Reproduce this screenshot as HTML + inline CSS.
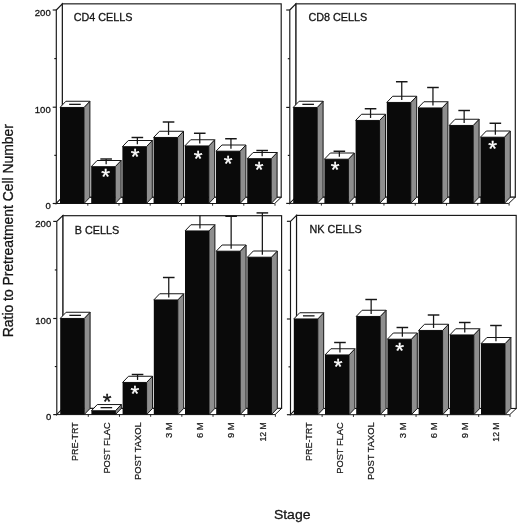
<!DOCTYPE html>
<html><head><meta charset="utf-8"><title>Figure</title>
<style>
html,body{margin:0;padding:0;background:#fff}
svg{display:block}
text{font-family:"Liberation Sans",sans-serif;fill:#151515}
.yl{font-size:9.5px}
.pt{font-size:10.7px}
.xl{font-size:9.8px}
.ax{font-size:13.7px}
.ay{font-size:13.9px}
.st{font-size:22.5px;stroke:#151515;stroke-width:.35px}
.sw{fill:#fff;stroke:#fff;stroke-width:.3px}
.pt,.yl,.xl,.ax{stroke:#151515;stroke-width:.3px}
.xl{stroke-width:.22px}
</style></head><body>
<svg width="520" height="525" viewBox="0 0 520 525">
<rect width="520" height="525" fill="#fff"/>
<rect x="62.3" y="3.85" width="218.9" height="193.45" fill="#fff" stroke="#161616" stroke-width="1.15"/>
<polygon points="56.3,10 62.3,3.85 62.3,197.3 56.3,203.5" fill="#fff" stroke="#161616" stroke-width="1.15"/>
<polygon points="56.3,203.5 274.7,203.5 281.2,197.3 62.3,197.3" fill="#fff" stroke="#161616" stroke-width="1"/>
<line x1="52.7" y1="203.5" x2="56.3" y2="203.5" stroke="#161616" stroke-width="1.15"/>
<line x1="54.3" y1="155.35" x2="56.3" y2="155.35" stroke="#161616" stroke-width="1.15"/>
<line x1="52.7" y1="107.2" x2="56.3" y2="107.2" stroke="#161616" stroke-width="1.15"/>
<line x1="54.3" y1="58.6" x2="56.3" y2="58.6" stroke="#161616" stroke-width="1.15"/>
<line x1="52.7" y1="10" x2="56.3" y2="10" stroke="#161616" stroke-width="1.15"/>
<line x1="87.8" y1="203.5" x2="87.8" y2="205.7" stroke="#161616" stroke-width="0.9"/>
<line x1="119" y1="203.5" x2="119" y2="205.7" stroke="#161616" stroke-width="0.9"/>
<line x1="150.2" y1="203.5" x2="150.2" y2="205.7" stroke="#161616" stroke-width="0.9"/>
<line x1="181.4" y1="203.5" x2="181.4" y2="205.7" stroke="#161616" stroke-width="0.9"/>
<line x1="212.6" y1="203.5" x2="212.6" y2="205.7" stroke="#161616" stroke-width="0.9"/>
<line x1="243.8" y1="203.5" x2="243.8" y2="205.7" stroke="#161616" stroke-width="0.9"/>
<line x1="275" y1="203.5" x2="275" y2="205.7" stroke="#161616" stroke-width="0.9"/>
<text x="50.7" y="209" text-anchor="end" class="yl">0</text>
<text x="50.7" y="112.7" text-anchor="end" class="yl">100</text>
<text x="50.7" y="15.5" text-anchor="end" class="yl">200</text>
<text x="73.7" y="21.2" class="pt" textLength="58.8" lengthAdjust="spacingAndGlyphs">CD4 CELLS</text>
<polygon points="84,107.45 89.9,101.25 89.9,197.3 84,203.5" fill="#8e8e8e" stroke="#161616" stroke-width="1"/>
<polygon points="60,107.45 65.9,101.25 89.9,101.25 84,107.45" fill="#fff" stroke="#161616" stroke-width="1"/>
<rect x="60" y="107.45" width="24" height="96.05" fill="#0a0a0a"/>
<line x1="69.15" y1="104.35" x2="80.75" y2="104.35" stroke="#161616" stroke-width="1.3"/>
<polygon points="115.2,166.7 121.1,160.5 121.1,197.3 115.2,203.5" fill="#8e8e8e" stroke="#161616" stroke-width="1"/>
<polygon points="91.2,166.7 97.1,160.5 121.1,160.5 115.2,166.7" fill="#fff" stroke="#161616" stroke-width="1"/>
<rect x="91.2" y="166.7" width="24" height="36.8" fill="#0a0a0a"/>
<line x1="106.15" y1="164.2" x2="106.15" y2="159" stroke="#161616" stroke-width="1.25"/>
<line x1="100.35" y1="159" x2="111.95" y2="159" stroke="#161616" stroke-width="1.45"/>
<text x="105.6" y="183.5" text-anchor="middle" class="st sw">*</text>
<polygon points="146.4,146.7 152.3,140.5 152.3,197.3 146.4,203.5" fill="#8e8e8e" stroke="#161616" stroke-width="1"/>
<polygon points="122.4,146.7 128.3,140.5 152.3,140.5 146.4,146.7" fill="#fff" stroke="#161616" stroke-width="1"/>
<rect x="122.4" y="146.7" width="24" height="56.8" fill="#0a0a0a"/>
<line x1="137.35" y1="144.2" x2="137.35" y2="137.5" stroke="#161616" stroke-width="1.25"/>
<line x1="131.55" y1="137.5" x2="143.15" y2="137.5" stroke="#161616" stroke-width="1.45"/>
<text x="135.1" y="163.5" text-anchor="middle" class="st sw">*</text>
<polygon points="177.6,137.45 183.5,131.25 183.5,197.3 177.6,203.5" fill="#8e8e8e" stroke="#161616" stroke-width="1"/>
<polygon points="153.6,137.45 159.5,131.25 183.5,131.25 177.6,137.45" fill="#fff" stroke="#161616" stroke-width="1"/>
<rect x="153.6" y="137.45" width="24" height="66.05" fill="#0a0a0a"/>
<line x1="168.55" y1="134.95" x2="168.55" y2="122" stroke="#161616" stroke-width="1.25"/>
<line x1="162.75" y1="122" x2="174.35" y2="122" stroke="#161616" stroke-width="1.45"/>
<polygon points="208.8,145.95 214.7,139.75 214.7,197.3 208.8,203.5" fill="#8e8e8e" stroke="#161616" stroke-width="1"/>
<polygon points="184.8,145.95 190.7,139.75 214.7,139.75 208.8,145.95" fill="#fff" stroke="#161616" stroke-width="1"/>
<rect x="184.8" y="145.95" width="24" height="57.55" fill="#0a0a0a"/>
<line x1="199.75" y1="143.45" x2="199.75" y2="133.25" stroke="#161616" stroke-width="1.25"/>
<line x1="193.95" y1="133.25" x2="205.55" y2="133.25" stroke="#161616" stroke-width="1.45"/>
<text x="198.1" y="165.5" text-anchor="middle" class="st sw">*</text>
<polygon points="240,151.2 245.9,145 245.9,197.3 240,203.5" fill="#8e8e8e" stroke="#161616" stroke-width="1"/>
<polygon points="216,151.2 221.9,145 245.9,145 240,151.2" fill="#fff" stroke="#161616" stroke-width="1"/>
<rect x="216" y="151.2" width="24" height="52.3" fill="#0a0a0a"/>
<line x1="230.95" y1="148.7" x2="230.95" y2="138.75" stroke="#161616" stroke-width="1.25"/>
<line x1="225.15" y1="138.75" x2="236.75" y2="138.75" stroke="#161616" stroke-width="1.45"/>
<text x="228.1" y="170.5" text-anchor="middle" class="st sw">*</text>
<polygon points="271.2,158.7 277.1,152.5 277.1,197.3 271.2,203.5" fill="#8e8e8e" stroke="#161616" stroke-width="1"/>
<polygon points="247.2,158.7 253.1,152.5 277.1,152.5 271.2,158.7" fill="#fff" stroke="#161616" stroke-width="1"/>
<rect x="247.2" y="158.7" width="24" height="44.8" fill="#0a0a0a"/>
<line x1="262.15" y1="156.2" x2="262.15" y2="150.5" stroke="#161616" stroke-width="1.25"/>
<line x1="256.35" y1="150.5" x2="267.95" y2="150.5" stroke="#161616" stroke-width="1.45"/>
<text x="259.1" y="177.25" text-anchor="middle" class="st sw">*</text>
<rect x="295.8" y="3.85" width="219.5" height="193.35" fill="#fff" stroke="#161616" stroke-width="1.15"/>
<polygon points="289.8,10 295.8,3.85 295.8,197.2 289.8,203.4" fill="#fff" stroke="#161616" stroke-width="1.15"/>
<polygon points="289.8,203.4 508.8,203.4 515.3,197.2 295.8,197.2" fill="#fff" stroke="#161616" stroke-width="1"/>
<line x1="286.2" y1="203.4" x2="289.8" y2="203.4" stroke="#161616" stroke-width="1.15"/>
<line x1="287.8" y1="155.4" x2="289.8" y2="155.4" stroke="#161616" stroke-width="1.15"/>
<line x1="286.2" y1="107.4" x2="289.8" y2="107.4" stroke="#161616" stroke-width="1.15"/>
<line x1="287.8" y1="58.7" x2="289.8" y2="58.7" stroke="#161616" stroke-width="1.15"/>
<line x1="286.2" y1="10" x2="289.8" y2="10" stroke="#161616" stroke-width="1.15"/>
<line x1="321.39" y1="203.4" x2="321.39" y2="205.6" stroke="#161616" stroke-width="0.9"/>
<line x1="352.67" y1="203.4" x2="352.67" y2="205.6" stroke="#161616" stroke-width="0.9"/>
<line x1="383.96" y1="203.4" x2="383.96" y2="205.6" stroke="#161616" stroke-width="0.9"/>
<line x1="415.24" y1="203.4" x2="415.24" y2="205.6" stroke="#161616" stroke-width="0.9"/>
<line x1="446.53" y1="203.4" x2="446.53" y2="205.6" stroke="#161616" stroke-width="0.9"/>
<line x1="477.81" y1="203.4" x2="477.81" y2="205.6" stroke="#161616" stroke-width="0.9"/>
<line x1="509.1" y1="203.4" x2="509.1" y2="205.6" stroke="#161616" stroke-width="0.9"/>
<text x="308.4" y="21.2" class="pt" textLength="58.9" lengthAdjust="spacingAndGlyphs">CD8 CELLS</text>
<polygon points="317.2,107.45 323.1,101.25 323.1,197.2 317.2,203.4" fill="#8e8e8e" stroke="#161616" stroke-width="1"/>
<polygon points="293.2,107.45 299.1,101.25 323.1,101.25 317.2,107.45" fill="#fff" stroke="#161616" stroke-width="1"/>
<rect x="293.2" y="107.45" width="24" height="95.95" fill="#0a0a0a"/>
<line x1="302.35" y1="104.35" x2="313.95" y2="104.35" stroke="#161616" stroke-width="1.3"/>
<polygon points="348.4,159.2 354.3,153 354.3,197.2 348.4,203.4" fill="#8e8e8e" stroke="#161616" stroke-width="1"/>
<polygon points="324.4,159.2 330.3,153 354.3,153 348.4,159.2" fill="#fff" stroke="#161616" stroke-width="1"/>
<rect x="324.4" y="159.2" width="24" height="44.2" fill="#0a0a0a"/>
<line x1="339.35" y1="156.7" x2="339.35" y2="151.25" stroke="#161616" stroke-width="1.25"/>
<line x1="333.55" y1="151.25" x2="345.15" y2="151.25" stroke="#161616" stroke-width="1.45"/>
<text x="335.1" y="176.75" text-anchor="middle" class="st sw">*</text>
<polygon points="379.6,120.45 385.5,114.25 385.5,197.2 379.6,203.4" fill="#8e8e8e" stroke="#161616" stroke-width="1"/>
<polygon points="355.6,120.45 361.5,114.25 385.5,114.25 379.6,120.45" fill="#fff" stroke="#161616" stroke-width="1"/>
<rect x="355.6" y="120.45" width="24" height="82.95" fill="#0a0a0a"/>
<line x1="370.55" y1="117.95" x2="370.55" y2="108.75" stroke="#161616" stroke-width="1.25"/>
<line x1="364.75" y1="108.75" x2="376.35" y2="108.75" stroke="#161616" stroke-width="1.45"/>
<polygon points="410.8,102.45 416.7,96.25 416.7,197.2 410.8,203.4" fill="#8e8e8e" stroke="#161616" stroke-width="1"/>
<polygon points="386.8,102.45 392.7,96.25 416.7,96.25 410.8,102.45" fill="#fff" stroke="#161616" stroke-width="1"/>
<rect x="386.8" y="102.45" width="24" height="100.95" fill="#0a0a0a"/>
<line x1="401.75" y1="99.95" x2="401.75" y2="81.75" stroke="#161616" stroke-width="1.25"/>
<line x1="395.95" y1="81.75" x2="407.55" y2="81.75" stroke="#161616" stroke-width="1.45"/>
<polygon points="442,107.95 447.9,101.75 447.9,197.2 442,203.4" fill="#8e8e8e" stroke="#161616" stroke-width="1"/>
<polygon points="418,107.95 423.9,101.75 447.9,101.75 442,107.95" fill="#fff" stroke="#161616" stroke-width="1"/>
<rect x="418" y="107.95" width="24" height="95.45" fill="#0a0a0a"/>
<line x1="432.95" y1="105.45" x2="432.95" y2="87.5" stroke="#161616" stroke-width="1.25"/>
<line x1="427.15" y1="87.5" x2="438.75" y2="87.5" stroke="#161616" stroke-width="1.45"/>
<polygon points="473.2,125.45 479.1,119.25 479.1,197.2 473.2,203.4" fill="#8e8e8e" stroke="#161616" stroke-width="1"/>
<polygon points="449.2,125.45 455.1,119.25 479.1,119.25 473.2,125.45" fill="#fff" stroke="#161616" stroke-width="1"/>
<rect x="449.2" y="125.45" width="24" height="77.95" fill="#0a0a0a"/>
<line x1="464.15" y1="122.95" x2="464.15" y2="110.5" stroke="#161616" stroke-width="1.25"/>
<line x1="458.35" y1="110.5" x2="469.95" y2="110.5" stroke="#161616" stroke-width="1.45"/>
<polygon points="504.4,137.2 510.3,131 510.3,197.2 504.4,203.4" fill="#8e8e8e" stroke="#161616" stroke-width="1"/>
<polygon points="480.4,137.2 486.3,131 510.3,131 504.4,137.2" fill="#fff" stroke="#161616" stroke-width="1"/>
<rect x="480.4" y="137.2" width="24" height="66.2" fill="#0a0a0a"/>
<line x1="495.35" y1="134.7" x2="495.35" y2="123.25" stroke="#161616" stroke-width="1.25"/>
<line x1="489.55" y1="123.25" x2="501.15" y2="123.25" stroke="#161616" stroke-width="1.45"/>
<text x="492.6" y="156" text-anchor="middle" class="st sw">*</text>
<rect x="62.8" y="215.7" width="218.8" height="192.7" fill="#fff" stroke="#161616" stroke-width="1.15"/>
<polygon points="56.8,221.4 62.8,215.7 62.8,408.4 56.8,414.6" fill="#fff" stroke="#161616" stroke-width="1.15"/>
<polygon points="56.8,414.6 275.1,414.6 281.6,408.4 62.8,408.4" fill="#fff" stroke="#161616" stroke-width="1"/>
<line x1="53.2" y1="414.6" x2="56.8" y2="414.6" stroke="#161616" stroke-width="1.15"/>
<line x1="54.8" y1="366.55" x2="56.8" y2="366.55" stroke="#161616" stroke-width="1.15"/>
<line x1="53.2" y1="318.5" x2="56.8" y2="318.5" stroke="#161616" stroke-width="1.15"/>
<line x1="54.8" y1="269.95" x2="56.8" y2="269.95" stroke="#161616" stroke-width="1.15"/>
<line x1="53.2" y1="221.4" x2="56.8" y2="221.4" stroke="#161616" stroke-width="1.15"/>
<line x1="88.29" y1="414.6" x2="88.29" y2="416.8" stroke="#161616" stroke-width="0.9"/>
<line x1="119.47" y1="414.6" x2="119.47" y2="416.8" stroke="#161616" stroke-width="0.9"/>
<line x1="150.66" y1="414.6" x2="150.66" y2="416.8" stroke="#161616" stroke-width="0.9"/>
<line x1="181.84" y1="414.6" x2="181.84" y2="416.8" stroke="#161616" stroke-width="0.9"/>
<line x1="213.03" y1="414.6" x2="213.03" y2="416.8" stroke="#161616" stroke-width="0.9"/>
<line x1="244.21" y1="414.6" x2="244.21" y2="416.8" stroke="#161616" stroke-width="0.9"/>
<line x1="275.4" y1="414.6" x2="275.4" y2="416.8" stroke="#161616" stroke-width="0.9"/>
<text x="51.2" y="420.1" text-anchor="end" class="yl">0</text>
<text x="51.2" y="324" text-anchor="end" class="yl">100</text>
<text x="51.2" y="226.9" text-anchor="end" class="yl">200</text>
<text x="74.8" y="233.8" class="pt" textLength="44.5" lengthAdjust="spacingAndGlyphs">B CELLS</text>
<polygon points="84.2,318.45 90.1,312.25 90.1,408.4 84.2,414.6" fill="#8e8e8e" stroke="#161616" stroke-width="1"/>
<polygon points="60.2,318.45 66.1,312.25 90.1,312.25 84.2,318.45" fill="#fff" stroke="#161616" stroke-width="1"/>
<rect x="60.2" y="318.45" width="24" height="96.15" fill="#0a0a0a"/>
<line x1="69.35" y1="315.35" x2="80.95" y2="315.35" stroke="#161616" stroke-width="1.3"/>
<polygon points="115.4,410.75 121.3,404.55 121.3,408.4 115.4,414.6" fill="#8e8e8e" stroke="#161616" stroke-width="1"/>
<polygon points="91.4,410.75 97.3,404.55 121.3,404.55 115.4,410.75" fill="#fff" stroke="#161616" stroke-width="1"/>
<rect x="91.4" y="410.75" width="24" height="3.85" fill="#0a0a0a"/>
<line x1="100.55" y1="407.65" x2="112.15" y2="407.65" stroke="#161616" stroke-width="1.3"/>
<polygon points="146.6,382.45 152.5,376.25 152.5,408.4 146.6,414.6" fill="#8e8e8e" stroke="#161616" stroke-width="1"/>
<polygon points="122.6,382.45 128.5,376.25 152.5,376.25 146.6,382.45" fill="#fff" stroke="#161616" stroke-width="1"/>
<rect x="122.6" y="382.45" width="24" height="32.15" fill="#0a0a0a"/>
<line x1="137.55" y1="379.95" x2="137.55" y2="374.5" stroke="#161616" stroke-width="1.25"/>
<line x1="131.75" y1="374.5" x2="143.35" y2="374.5" stroke="#161616" stroke-width="1.45"/>
<text x="134.9" y="401" text-anchor="middle" class="st sw">*</text>
<polygon points="177.8,299.95 183.7,293.75 183.7,408.4 177.8,414.6" fill="#8e8e8e" stroke="#161616" stroke-width="1"/>
<polygon points="153.8,299.95 159.7,293.75 183.7,293.75 177.8,299.95" fill="#fff" stroke="#161616" stroke-width="1"/>
<rect x="153.8" y="299.95" width="24" height="114.65" fill="#0a0a0a"/>
<line x1="168.75" y1="297.45" x2="168.75" y2="277.5" stroke="#161616" stroke-width="1.25"/>
<line x1="162.95" y1="277.5" x2="174.55" y2="277.5" stroke="#161616" stroke-width="1.45"/>
<polygon points="209,230.95 214.9,224.75 214.9,408.4 209,414.6" fill="#8e8e8e" stroke="#161616" stroke-width="1"/>
<polygon points="185,230.95 190.9,224.75 214.9,224.75 209,230.95" fill="#fff" stroke="#161616" stroke-width="1"/>
<rect x="185" y="230.95" width="24" height="183.65" fill="#0a0a0a"/>
<line x1="199.95" y1="228.45" x2="199.95" y2="215.6" stroke="#161616" stroke-width="1.25"/>
<polygon points="240.2,251.2 246.1,245 246.1,408.4 240.2,414.6" fill="#8e8e8e" stroke="#161616" stroke-width="1"/>
<polygon points="216.2,251.2 222.1,245 246.1,245 240.2,251.2" fill="#fff" stroke="#161616" stroke-width="1"/>
<rect x="216.2" y="251.2" width="24" height="163.4" fill="#0a0a0a"/>
<line x1="231.15" y1="248.7" x2="231.15" y2="216.25" stroke="#161616" stroke-width="1.25"/>
<line x1="225.35" y1="216.25" x2="236.95" y2="216.25" stroke="#161616" stroke-width="1.45"/>
<polygon points="271.4,257.2 277.3,251 277.3,408.4 271.4,414.6" fill="#8e8e8e" stroke="#161616" stroke-width="1"/>
<polygon points="247.4,257.2 253.3,251 277.3,251 271.4,257.2" fill="#fff" stroke="#161616" stroke-width="1"/>
<rect x="247.4" y="257.2" width="24" height="157.4" fill="#0a0a0a"/>
<line x1="262.35" y1="254.7" x2="262.35" y2="212.9" stroke="#161616" stroke-width="1.25"/>
<line x1="256.55" y1="212.9" x2="268.15" y2="212.9" stroke="#161616" stroke-width="1.45"/>
<text x="107.2" y="408.7" text-anchor="middle" class="st">*</text>
<text transform="translate(78.3,422.3) rotate(-90)" text-anchor="end" class="xl" textLength="38.6" lengthAdjust="spacingAndGlyphs">PRE-TRT</text>
<text transform="translate(109.5,422.3) rotate(-90)" text-anchor="end" class="xl" textLength="51.3" lengthAdjust="spacingAndGlyphs">POST FLAC</text>
<text transform="translate(140.7,422.3) rotate(-90)" text-anchor="end" class="xl" textLength="57.6" lengthAdjust="spacingAndGlyphs">POST TAXOL</text>
<text transform="translate(171.9,422.3) rotate(-90)" text-anchor="end" class="xl" textLength="15.8" lengthAdjust="spacingAndGlyphs">3 M</text>
<text transform="translate(203.1,422.3) rotate(-90)" text-anchor="end" class="xl" textLength="15.8" lengthAdjust="spacingAndGlyphs">6 M</text>
<text transform="translate(234.3,422.3) rotate(-90)" text-anchor="end" class="xl" textLength="15.8" lengthAdjust="spacingAndGlyphs">9 M</text>
<text transform="translate(265.5,422.3) rotate(-90)" text-anchor="end" class="xl" textLength="19.3" lengthAdjust="spacingAndGlyphs">12 M</text>
<rect x="296.5" y="215.4" width="219.7" height="193.1" fill="#fff" stroke="#161616" stroke-width="1.15"/>
<polygon points="290.5,221.3 296.5,215.4 296.5,408.5 290.5,414.7" fill="#fff" stroke="#161616" stroke-width="1.15"/>
<polygon points="290.5,414.7 509.7,414.7 516.2,408.5 296.5,408.5" fill="#fff" stroke="#161616" stroke-width="1"/>
<line x1="286.9" y1="414.7" x2="290.5" y2="414.7" stroke="#161616" stroke-width="1.15"/>
<line x1="288.5" y1="366.85" x2="290.5" y2="366.85" stroke="#161616" stroke-width="1.15"/>
<line x1="286.9" y1="319" x2="290.5" y2="319" stroke="#161616" stroke-width="1.15"/>
<line x1="288.5" y1="270.15" x2="290.5" y2="270.15" stroke="#161616" stroke-width="1.15"/>
<line x1="286.9" y1="221.3" x2="290.5" y2="221.3" stroke="#161616" stroke-width="1.15"/>
<line x1="322.11" y1="414.7" x2="322.11" y2="416.9" stroke="#161616" stroke-width="0.9"/>
<line x1="353.43" y1="414.7" x2="353.43" y2="416.9" stroke="#161616" stroke-width="0.9"/>
<line x1="384.74" y1="414.7" x2="384.74" y2="416.9" stroke="#161616" stroke-width="0.9"/>
<line x1="416.06" y1="414.7" x2="416.06" y2="416.9" stroke="#161616" stroke-width="0.9"/>
<line x1="447.37" y1="414.7" x2="447.37" y2="416.9" stroke="#161616" stroke-width="0.9"/>
<line x1="478.69" y1="414.7" x2="478.69" y2="416.9" stroke="#161616" stroke-width="0.9"/>
<line x1="510" y1="414.7" x2="510" y2="416.9" stroke="#161616" stroke-width="0.9"/>
<text x="309.5" y="232.7" class="pt" textLength="52.1" lengthAdjust="spacingAndGlyphs">NK CELLS</text>
<polygon points="317.8,318.95 323.7,312.75 323.7,408.5 317.8,414.7" fill="#8e8e8e" stroke="#161616" stroke-width="1"/>
<polygon points="293.8,318.95 299.7,312.75 323.7,312.75 317.8,318.95" fill="#fff" stroke="#161616" stroke-width="1"/>
<rect x="293.8" y="318.95" width="24" height="95.75" fill="#0a0a0a"/>
<line x1="302.95" y1="315.85" x2="314.55" y2="315.85" stroke="#161616" stroke-width="1.3"/>
<polygon points="349,354.95 354.9,348.75 354.9,408.5 349,414.7" fill="#8e8e8e" stroke="#161616" stroke-width="1"/>
<polygon points="325,354.95 330.9,348.75 354.9,348.75 349,354.95" fill="#fff" stroke="#161616" stroke-width="1"/>
<rect x="325" y="354.95" width="24" height="59.75" fill="#0a0a0a"/>
<line x1="339.95" y1="352.45" x2="339.95" y2="342.5" stroke="#161616" stroke-width="1.25"/>
<line x1="334.15" y1="342.5" x2="345.75" y2="342.5" stroke="#161616" stroke-width="1.45"/>
<text x="338.1" y="373.5" text-anchor="middle" class="st sw">*</text>
<polygon points="380.2,316.45 386.1,310.25 386.1,408.5 380.2,414.7" fill="#8e8e8e" stroke="#161616" stroke-width="1"/>
<polygon points="356.2,316.45 362.1,310.25 386.1,310.25 380.2,316.45" fill="#fff" stroke="#161616" stroke-width="1"/>
<rect x="356.2" y="316.45" width="24" height="98.25" fill="#0a0a0a"/>
<line x1="371.15" y1="313.95" x2="371.15" y2="299.5" stroke="#161616" stroke-width="1.25"/>
<line x1="365.35" y1="299.5" x2="376.95" y2="299.5" stroke="#161616" stroke-width="1.45"/>
<polygon points="411.4,339.2 417.3,333 417.3,408.5 411.4,414.7" fill="#8e8e8e" stroke="#161616" stroke-width="1"/>
<polygon points="387.4,339.2 393.3,333 417.3,333 411.4,339.2" fill="#fff" stroke="#161616" stroke-width="1"/>
<rect x="387.4" y="339.2" width="24" height="75.5" fill="#0a0a0a"/>
<line x1="402.35" y1="336.7" x2="402.35" y2="327.5" stroke="#161616" stroke-width="1.25"/>
<line x1="396.55" y1="327.5" x2="408.15" y2="327.5" stroke="#161616" stroke-width="1.45"/>
<text x="399.6" y="358" text-anchor="middle" class="st sw">*</text>
<polygon points="442.6,330.45 448.5,324.25 448.5,408.5 442.6,414.7" fill="#8e8e8e" stroke="#161616" stroke-width="1"/>
<polygon points="418.6,330.45 424.5,324.25 448.5,324.25 442.6,330.45" fill="#fff" stroke="#161616" stroke-width="1"/>
<rect x="418.6" y="330.45" width="24" height="84.25" fill="#0a0a0a"/>
<line x1="433.55" y1="327.95" x2="433.55" y2="315" stroke="#161616" stroke-width="1.25"/>
<line x1="427.75" y1="315" x2="439.35" y2="315" stroke="#161616" stroke-width="1.45"/>
<polygon points="473.8,334.95 479.7,328.75 479.7,408.5 473.8,414.7" fill="#8e8e8e" stroke="#161616" stroke-width="1"/>
<polygon points="449.8,334.95 455.7,328.75 479.7,328.75 473.8,334.95" fill="#fff" stroke="#161616" stroke-width="1"/>
<rect x="449.8" y="334.95" width="24" height="79.75" fill="#0a0a0a"/>
<line x1="464.75" y1="332.45" x2="464.75" y2="322.5" stroke="#161616" stroke-width="1.25"/>
<line x1="458.95" y1="322.5" x2="470.55" y2="322.5" stroke="#161616" stroke-width="1.45"/>
<polygon points="505,343.7 510.9,337.5 510.9,408.5 505,414.7" fill="#8e8e8e" stroke="#161616" stroke-width="1"/>
<polygon points="481,343.7 486.9,337.5 510.9,337.5 505,343.7" fill="#fff" stroke="#161616" stroke-width="1"/>
<rect x="481" y="343.7" width="24" height="71" fill="#0a0a0a"/>
<line x1="495.95" y1="341.2" x2="495.95" y2="325.5" stroke="#161616" stroke-width="1.25"/>
<line x1="490.15" y1="325.5" x2="501.75" y2="325.5" stroke="#161616" stroke-width="1.45"/>
<text transform="translate(312,422.4) rotate(-90)" text-anchor="end" class="xl" textLength="38.6" lengthAdjust="spacingAndGlyphs">PRE-TRT</text>
<text transform="translate(343.2,422.4) rotate(-90)" text-anchor="end" class="xl" textLength="51.3" lengthAdjust="spacingAndGlyphs">POST FLAC</text>
<text transform="translate(374.4,422.4) rotate(-90)" text-anchor="end" class="xl" textLength="57.6" lengthAdjust="spacingAndGlyphs">POST TAXOL</text>
<text transform="translate(405.6,422.4) rotate(-90)" text-anchor="end" class="xl" textLength="15.8" lengthAdjust="spacingAndGlyphs">3 M</text>
<text transform="translate(436.8,422.4) rotate(-90)" text-anchor="end" class="xl" textLength="15.8" lengthAdjust="spacingAndGlyphs">6 M</text>
<text transform="translate(468,422.4) rotate(-90)" text-anchor="end" class="xl" textLength="15.8" lengthAdjust="spacingAndGlyphs">9 M</text>
<text transform="translate(499.2,422.4) rotate(-90)" text-anchor="end" class="xl" textLength="19.3" lengthAdjust="spacingAndGlyphs">12 M</text>
<text transform="translate(12.9,337.2) rotate(-90)" class="ax ay" textLength="213" lengthAdjust="spacingAndGlyphs">Ratio to Pretreatment Cell Number</text>
<text x="273.9" y="519.3" class="ax" textLength="36.6" lengthAdjust="spacingAndGlyphs">Stage</text>
</svg>
</body></html>
